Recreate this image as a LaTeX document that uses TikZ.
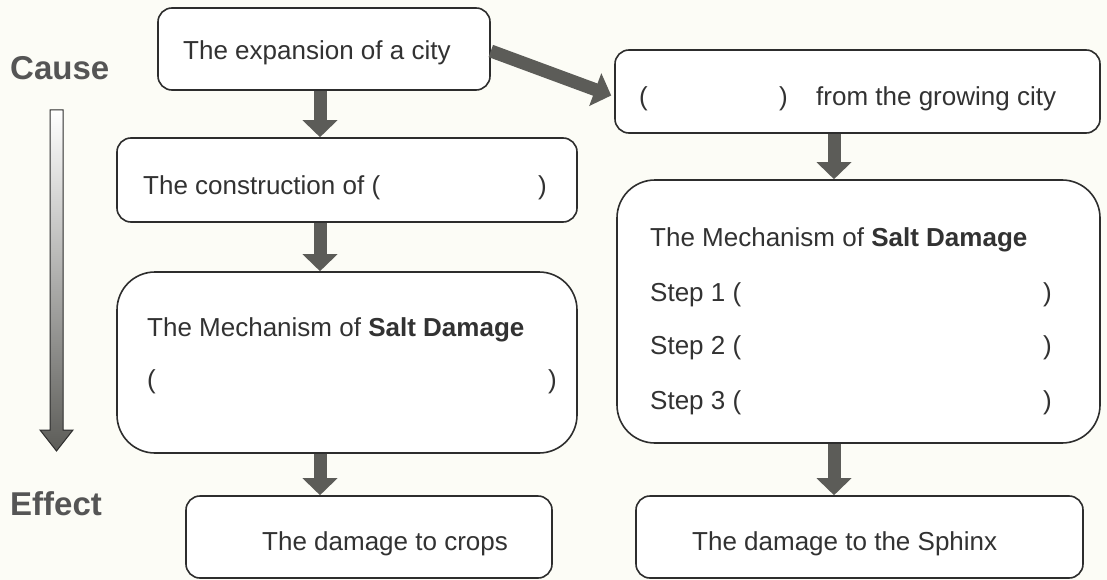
\documentclass[tikz,border=0pt]{standalone}
\usepackage{fontspec}
\setmainfont{Liberation Sans}
\usetikzlibrary{arrows.meta}
\definecolor{paper}{RGB}{252,252,246}
\definecolor{ink}{RGB}{50,50,50}
\definecolor{edge}{RGB}{45,45,45}
\definecolor{flow}{RGB}{92,92,88}
\definecolor{label}{RGB}{85,85,85}
\tikzset{
  box/.style={draw=edge, line width=1.6pt, fill=white, rounded corners=14pt, inner sep=0pt},
  bigbox/.style={box, rounded corners=38pt},
  txt/.style={anchor=base west, inner sep=0pt, text=ink, font=\fontsize{26}{30}\selectfont},
  side/.style={anchor=base west, inner sep=0pt, text=label, font=\fontsize{33}{38}\selectfont\bfseries},
  flowarrow/.style={draw=flow, line width=13pt, -{Triangle[width=34pt 0, length=17pt 0]}},
}
\begin{document}
\begin{tikzpicture}[x=1pt, y=-1pt]
\useasboundingbox[fill=paper] (0,0) rectangle (1107,580);

% boxes
\node[box, minimum width=332pt, minimum height=82pt] (a) at (324,49) {};
\node[box, minimum width=485pt, minimum height=83pt] (b) at (857.5,91.5) {};
\node[box, minimum width=460pt, minimum height=84pt] (c) at (347,180) {};
\node[bigbox, minimum width=460pt, minimum height=181pt] (d) at (347,362.5) {};
\node[bigbox, minimum width=483pt, minimum height=263pt] (e) at (858.5,311.5) {};
\node[box, minimum width=366pt, minimum height=82pt] (f) at (369,537) {};
\node[box, minimum width=447pt, minimum height=82pt] (g) at (859.5,537) {};

% texts inside boxes
\node[txt] (ta) at (183,60) {The expansion of a city};
\node[txt] (tb1) at (639,106) {(};
\node[txt] (tb2) at (779,106) {)};
\node[txt] (tb3) at (816,106) {from the growing city};
\node[txt] (tc1) at (143,194) {The construction of (};
\node[txt] (tc2) at (538,194) {)};
\node[txt] (td1) at (147,336) {The Mechanism of \textbf{Salt Damage}};
\node[txt] (td2) at (147,388) {(};
\node[txt] (td3) at (548,388) {)};
\node[txt] (te1) at (650,246) {The Mechanism of \textbf{Salt Damage}};
\node[txt] (te2) at (650,301) {Step 1 (};
\node[txt] (te3) at (1043,301) {)};
\node[txt] (te4) at (650,354) {Step 2 (};
\node[txt] (te5) at (1043,354) {)};
\node[txt] (te6) at (650,409) {Step 3 (};
\node[txt] (te7) at (1043,409) {)};
\node[txt] (tf) at (262,550) {The damage to crops};
\node[txt] (tg) at (692,550) {The damage to the Sphinx};

% side labels
\node[side] (cause) at (10,80) {Cause};
\node[side] (effect) at (10,515) {Effect};

% cause-to-effect arrow with gradient
\shade[top color=white, bottom color=flow, draw=edge, line width=1pt]
  (50,110) -- (63,110) -- (63,430) -- (73,430) -- (56.5,451) -- (40,430) -- (50,430) -- cycle;

% flow arrows between boxes
\coordinate (lx) at (320,0);
\coordinate (rx) at (834,0);
\draw[flowarrow] (lx |- a.south) -- (lx |- c.north);
\draw[flowarrow] (lx |- c.south) -- (lx |- d.north);
\draw[flowarrow] (lx |- d.south) -- (lx |- f.north);
\draw[flowarrow] (rx |- b.south) -- (rx |- e.north);
\draw[flowarrow] (rx |- e.south) -- (rx |- g.north);
\draw[flowarrow] ([yshift=-2pt]a.east) -- ([xshift=-3pt,yshift=-4pt]b.west);
\end{tikzpicture}
\end{document}
